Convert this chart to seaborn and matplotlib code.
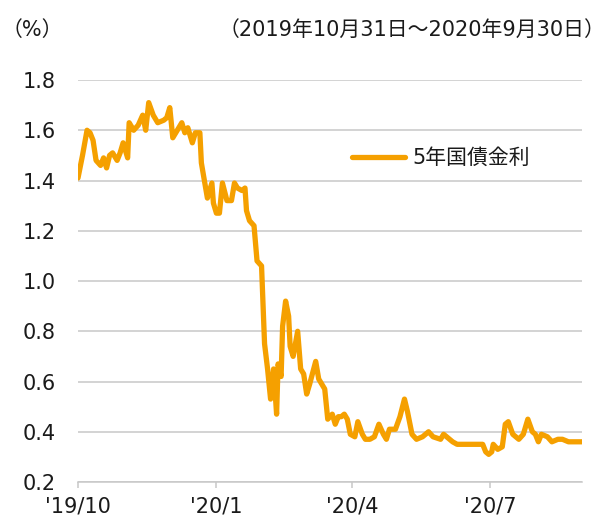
import matplotlib
matplotlib.use("Agg")
import matplotlib.pyplot as plt
import numpy as np
import pandas as pd
import seaborn as sns

# ---- data ----
dates = [
    "2019-10-31", "2019-11-03", "2019-11-06", "2019-11-08", "2019-11-10", "2019-11-12",
    "2019-11-15", "2019-11-17", "2019-11-19", "2019-11-21", "2019-11-23", "2019-11-26",
    "2019-11-28", "2019-11-30", "2019-12-03", "2019-12-04", "2019-12-07", "2019-12-10",
    "2019-12-13", "2019-12-15", "2019-12-17", "2019-12-20", "2019-12-23", "2019-12-27",
    "2019-12-29", "2019-12-31", "2020-01-02", "2020-01-04", "2020-01-08", "2020-01-10",
    "2020-01-12", "2020-01-15", "2020-01-17", "2020-01-20", "2020-01-21", "2020-01-23",
    "2020-01-25", "2020-01-28", "2020-01-29", "2020-01-31", "2020-02-02", "2020-02-04",
    "2020-02-07", "2020-02-10", "2020-02-12", "2020-02-14", "2020-02-17", "2020-02-19",
    "2020-02-20", "2020-02-22", "2020-02-25", "2020-02-27", "2020-03-01", "2020-03-03",
    "2020-03-05", "2020-03-07", "2020-03-09", "2020-03-11", "2020-03-12", "2020-03-14",
    "2020-03-15", "2020-03-17", "2020-03-19", "2020-03-20", "2020-03-22", "2020-03-25",
    "2020-03-27", "2020-03-29", "2020-03-31", "2020-04-02", "2020-04-06", "2020-04-08",
    "2020-04-10", "2020-04-12", "2020-04-14", "2020-04-17", "2020-04-19", "2020-04-21",
    "2020-04-23", "2020-04-25", "2020-04-27", "2020-04-29", "2020-05-02", "2020-05-04",
    "2020-05-07", "2020-05-09", "2020-05-12", "2020-05-15", "2020-05-18", "2020-05-21",
    "2020-05-23", "2020-05-25", "2020-05-29", "2020-06-01", "2020-06-04", "2020-06-06",
    "2020-06-09", "2020-06-12", "2020-06-16", "2020-06-20", "2020-06-23", "2020-06-28",
    "2020-06-30", "2020-07-02", "2020-07-06", "2020-07-09", "2020-07-16", "2020-07-22",
    "2020-07-26", "2020-07-28", "2020-07-30", "2020-08-01", "2020-08-02", "2020-08-05",
    "2020-08-08", "2020-08-10", "2020-08-12", "2020-08-15", "2020-08-19", "2020-08-22",
    "2020-08-25", "2020-08-28", "2020-08-30", "2020-09-01", "2020-09-03", "2020-09-07",
    "2020-09-10", "2020-09-14", "2020-09-17", "2020-09-21", "2020-09-24", "2020-09-30",
]
yields = [
    1.41, 1.50, 1.60, 1.59, 1.56, 1.48,
    1.46, 1.49, 1.45, 1.50, 1.51, 1.48,
    1.51, 1.55, 1.49, 1.63, 1.60, 1.62,
    1.66, 1.60, 1.71, 1.66, 1.63, 1.64,
    1.65, 1.69, 1.57, 1.59, 1.63, 1.59,
    1.61, 1.55, 1.59, 1.59, 1.47, 1.40,
    1.33, 1.39, 1.31, 1.27, 1.27, 1.39,
    1.32, 1.32, 1.39, 1.37, 1.36, 1.37,
    1.28, 1.24, 1.22, 1.08, 1.06, 0.75,
    0.65, 0.53, 0.65, 0.47, 0.67, 0.62,
    0.82, 0.92, 0.86, 0.74, 0.70, 0.80,
    0.65, 0.63, 0.55, 0.59, 0.68, 0.61,
    0.59, 0.57, 0.45, 0.47, 0.43, 0.46,
    0.46, 0.47, 0.45, 0.39, 0.38, 0.44,
    0.39, 0.37, 0.37, 0.38, 0.43, 0.39,
    0.37, 0.41, 0.41, 0.46, 0.53, 0.48,
    0.39, 0.37, 0.38, 0.40, 0.38, 0.37,
    0.39, 0.38, 0.36, 0.35, 0.35, 0.35,
    0.35, 0.32, 0.31, 0.32, 0.35, 0.33,
    0.34, 0.43, 0.44, 0.39, 0.37, 0.39,
    0.45, 0.40, 0.39, 0.36, 0.39, 0.38,
    0.36, 0.37, 0.37, 0.36, 0.36, 0.36,
]
series_name = "5年国債金利"
x_tick_dates = ["2019-10-31", "2020-01-31", "2020-04-30", "2020-07-31"]
x_tick_labels = ["'19/10", "'20/1", "'20/4", "'20/7"]
y_ticks = [0.2, 0.4, 0.6, 0.8, 1.0, 1.2, 1.4, 1.6, 1.8]
unit_label = "（%）"
period_label = "（2019年10月31日～2020年9月30日）"

df = pd.DataFrame({"date": pd.to_datetime(dates), "value": yields})

# ---- style ----
sns.set_style("white")
plt.rcParams["font.family"] = ["DejaVu Sans", "Noto Sans CJK JP"]
FS = 15
TXT = "#1a1a1a"
ORANGE = "#F5A000"
GRID = "#c8c8c8"

W, H = 607, 522
fig = plt.figure(figsize=(W / 100, H / 100), dpi=100)
ax = fig.add_axes([78 / W, 1 - 482 / H, 504 / W, 402 / H])

sns.lineplot(data=df, x="date", y="value", ax=ax, color=ORANGE, linewidth=3.8,
             label=series_name, solid_joinstyle="round", solid_capstyle="round")

ax.set_xlim(pd.Timestamp(dates[0]), pd.Timestamp(dates[-1]))
ax.set_ylim(y_ticks[0], y_ticks[-1])
ax.set_yticks(y_ticks)
ax.set_yticklabels([f"{v:.1f}" for v in y_ticks])
ax.set_xticks(pd.to_datetime(x_tick_dates))
ax.set_xticklabels(x_tick_labels)
ax.set_xlabel("")
ax.set_ylabel("")

ax.yaxis.grid(True, color=GRID, linewidth=1.1)
ax.xaxis.grid(False)
ax.set_axisbelow(True)
for s in ["top", "right", "left"]:
    ax.spines[s].set_visible(False)
ax.spines["bottom"].set_color(GRID)
ax.spines["bottom"].set_linewidth(1.1)

ax.tick_params(axis="y", length=0, pad=16, labelsize=FS, labelcolor=TXT)
ax.tick_params(axis="x", direction="out", length=4.5, width=1.1, color=GRID,
               pad=6, labelsize=FS, labelcolor=TXT, bottom=True)

leg = ax.legend(loc="center left", bbox_to_anchor=(352 / W, 1 - 158 / H),
                bbox_transform=fig.transFigure, frameon=False, fontsize=FS,
                handlelength=2.55, handletextpad=0.35, borderpad=0,
                borderaxespad=0)
for t in leg.get_texts():
    t.set_color(TXT)

fig.text(2 / W, 1 - 30 / H, unit_label, ha="left", va="center", fontsize=FS, color=TXT)
fig.text(605 / W, 1 - 30 / H, period_label, ha="right", va="center", fontsize=FS, color=TXT)

fig.savefig("out.png", dpi=100)
